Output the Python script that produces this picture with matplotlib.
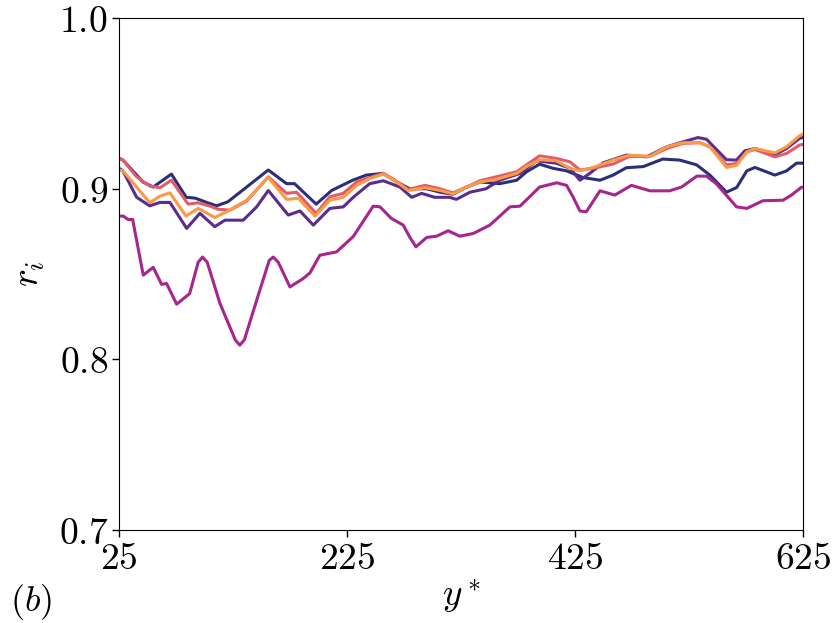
import matplotlib
matplotlib.use("Agg")
import matplotlib.pyplot as plt

plt.rcParams['mathtext.fontset'] = 'cm'
plt.rcParams['font.family'] = 'serif'
plt.rcParams['font.serif'] = ['DejaVu Serif']

# series 1 (navy)
x1 = [25, 28.5, 46, 55, 71, 84, 92, 102, 110.7, 120.6, 156, 172, 179, 198, 211.6, 230, 242,
      256.6, 268.6, 280, 295, 306.6, 318, 330, 341.7, 359, 374, 382.6, 394, 405.7, 417.7,
      432, 447, 458.5, 470, 485, 502, 517, 531.8, 543.4, 558, 567, 575.8, 583, 600.4,
      610.7, 619.4, 625]
r1 = [0.918, 0.9168, 0.904, 0.901, 0.9086, 0.895, 0.8945, 0.892, 0.890, 0.8924, 0.911, 0.903,
      0.903, 0.891, 0.899, 0.905, 0.908, 0.909, 0.904, 0.900, 0.900, 0.898, 0.8968, 0.901,
      0.904, 0.903, 0.905, 0.910, 0.9144, 0.912, 0.9105, 0.9066, 0.905, 0.908, 0.9123,
      0.913, 0.9174, 0.9168, 0.914, 0.908, 0.898, 0.9008, 0.9105, 0.9125, 0.908, 0.9105,
      0.915, 0.915]

# series 2 (purple)
x2 = [25, 28.5, 40.5, 52, 61, 69.7, 84.4, 96, 109, 118, 134, 145.8, 156, 173.5, 183.8, 195.5,
      210, 221.8, 230.5, 245, 257, 271.5, 281.8, 290.5, 302, 315, 321, 333, 347, 359, 376.8,
      391.5, 408.5, 420.6, 429.4, 438, 449.8, 470, 488, 505.5, 520, 533, 540.4, 558, 566.8,
      574, 583, 600.4, 610.7, 622, 625]
r2 = [0.912, 0.9105, 0.895, 0.890, 0.892, 0.892, 0.8768, 0.8856, 0.8778, 0.8816, 0.8816,
      0.8894, 0.899, 0.8846, 0.887, 0.8787, 0.8885, 0.8894, 0.895, 0.903, 0.9047, 0.901,
      0.895, 0.8973, 0.895, 0.895, 0.8938, 0.898, 0.900, 0.905, 0.909, 0.9164, 0.915, 0.912,
      0.905, 0.909, 0.9152, 0.9197, 0.9187, 0.9246, 0.9275, 0.930, 0.929, 0.917, 0.9168,
      0.9222, 0.9236, 0.920, 0.9236, 0.9295, 0.930]

# series 3 (magenta)
x3 = [25, 28.8, 33, 37, 46.3, 55, 62.4, 66.8, 75.6, 87, 94.5, 98.3, 102.4, 113.6, 127, 131,
      135, 145.8, 156.8, 160.3, 164.7, 175, 186.6, 192.5, 201.3, 215.8, 230.5, 248, 254, 264,
      274.4, 280, 285.5, 295, 303.6, 313.8, 324, 335.8, 350.4, 368, 376.8, 394, 409, 417.7,
      423.5, 429.4, 435, 447, 460, 474.6, 490.8, 508, 518.5, 532, 540.4, 549, 566.8, 575.8,
      590, 607.6, 615, 623.6, 625]
r3 = [0.884, 0.884, 0.882, 0.882, 0.8494, 0.854, 0.844, 0.8445, 0.8324, 0.8386, 0.857, 0.860,
      0.857, 0.8328, 0.8115, 0.8084, 0.8115, 0.8347, 0.858, 0.860, 0.857, 0.8425, 0.8474,
      0.8507, 0.8611, 0.863, 0.872, 0.8898, 0.8894, 0.8826, 0.8787, 0.8718, 0.866, 0.8715,
      0.8722, 0.8754, 0.8722, 0.8738, 0.8787, 0.8894, 0.8898, 0.901, 0.9035, 0.902, 0.895,
      0.887, 0.8865, 0.8988, 0.8963, 0.902, 0.8988, 0.8988, 0.901, 0.9074, 0.9074, 0.903,
      0.8894, 0.8885, 0.893, 0.8933, 0.8963, 0.9008, 0.901]

# series 4 (pink)
x4 = [25, 28.5, 40.5, 52, 61, 71, 85.7, 94.5, 104.8, 112, 122.4, 137, 156, 172, 180.8, 198,
      210, 221.8, 233.6, 245, 257, 267, 278.8, 293.4, 306.6, 318, 330, 341.7, 356, 374,
      382.6, 394, 408.5, 420.6, 429.4, 441, 458.5, 473, 490.8, 505.5, 520, 534.6, 543.4,
      558, 567, 575.8, 583, 600.4, 610.7, 622, 625]
r4 = [0.918, 0.9168, 0.907, 0.9016, 0.9006, 0.905, 0.891, 0.8918, 0.8898, 0.888, 0.8875,
      0.8928, 0.907, 0.8973, 0.898, 0.8856, 0.8953, 0.8973, 0.904, 0.9066, 0.909, 0.905,
      0.8996, 0.902, 0.900, 0.8976, 0.901, 0.9047, 0.907, 0.910, 0.914, 0.9193, 0.9178,
      0.9158, 0.911, 0.912, 0.9145, 0.919, 0.919, 0.9236, 0.9266, 0.927, 0.9246, 0.914,
      0.9148, 0.9216, 0.923, 0.9187, 0.9207, 0.9256, 0.926]

# series 5 (orange)
x5 = [25, 28.5, 40.5, 52, 61, 69.7, 83.8, 94.5, 109, 119.4, 137, 156, 172, 182.3, 197, 210,
      221.8, 233.6, 245, 257, 267, 278.8, 293.4, 306.6, 318, 330, 341.7, 356, 374, 382.6,
      394, 408.5, 420.6, 429.4, 441, 458.5, 473, 490.8, 505.5, 520, 534.6, 543.4, 558, 567,
      575.8, 583, 600.4, 610.7, 622, 625]
r5 = [0.911, 0.9105, 0.901, 0.8918, 0.8957, 0.8976, 0.884, 0.8885, 0.8832, 0.8865, 0.8933,
      0.9066, 0.8938, 0.8944, 0.884, 0.8933, 0.895, 0.902, 0.906, 0.9086, 0.9047, 0.899,
      0.9006, 0.899, 0.897, 0.901, 0.904, 0.9055, 0.909, 0.913, 0.917, 0.9164, 0.912,
      0.9105, 0.9125, 0.9168, 0.9197, 0.919, 0.9246, 0.927, 0.927, 0.9246, 0.9125, 0.9138,
      0.9216, 0.9236, 0.921, 0.9246, 0.931, 0.932]

xs = [x1, x2, x3, x4, x5]
rs = [r1, r2, r3, r4, r5]
colors = ['#2c2e78', '#5b2c8f', '#a6258f', '#e35b6b', '#fa9a45']

fig = plt.figure(figsize=(8.32, 6.23), dpi=100)
ax = fig.add_axes([0.143, 0.149, 0.822, 0.822])

for x, r, c in zip(xs, rs, colors):
    ax.plot(x, r, color=c, lw=2.2, solid_joinstyle='round', solid_capstyle='round')

ax.set_xlim(25, 625)
ax.set_ylim(0.7, 1.0)
ax.set_xticks([25, 225, 425, 625])
ax.set_xticklabels(['$25$', '$225$', '$425$', '$625$'])
ax.set_yticks([0.7, 0.8, 0.9, 1.0])
ax.set_yticklabels(['$0.7$', '$0.8$', '$0.9$', '$1.0$'])
ax.tick_params(labelsize=27, length=5, width=1, pad=3)
ax.set_xlabel('$y^*$', fontsize=27, labelpad=0)
ax.set_ylabel('$r_i$', fontsize=27, labelpad=8)
fig.text(0.012, 0.02, '$(b)$', fontsize=26)

fig.savefig('out.png', dpi=100)
